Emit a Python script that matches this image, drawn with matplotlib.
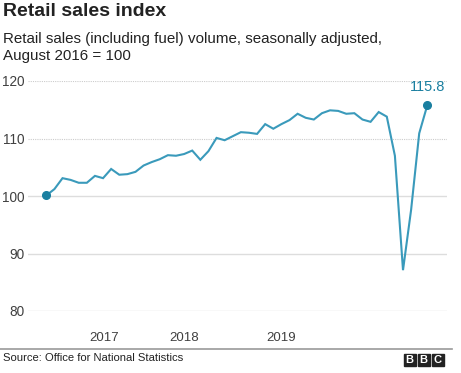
import matplotlib
matplotlib.use("Agg")
import matplotlib.pyplot as plt
from matplotlib.patches import Rectangle
from matplotlib.lines import Line2D

plt.rcParams['font.family'] = ['Liberation Sans', 'DejaVu Sans']

# Monthly index, Aug 2016 .. Jul 2020
values = [100.1, 101.2, 103.1, 102.8, 102.3, 102.3, 103.5, 103.1, 104.7, 103.7,
          103.8, 104.2, 105.3, 105.9, 106.4, 107.1, 107.0, 107.3, 107.9, 106.3,
          107.8, 110.1, 109.7, 110.4, 111.1, 111.0, 110.8, 112.5, 111.7, 112.5,
          113.2, 114.3, 113.6, 113.3, 114.4, 114.9, 114.8, 114.3, 114.4, 113.3,
          112.9, 114.6, 113.8, 107.0, 87.1, 97.6, 110.9, 115.8]
year_labels = ["2017", "2018", "2019"]
year_positions = [7.1, 17.0, 29.0]
y_ticks = [80, 90, 100, 110, 120]

W, H = 461, 373
fig = plt.figure(figsize=(W / 100, H / 100), dpi=100)

def fx(px):
    return px / W

def fy(py):
    return 1 - py / H

ax = fig.add_axes([fx(28.3), fy(311), fx(446.7) - fx(28.3), fy(81) - fy(311)])
ax.set_xlim(-2.22, 49.39)
ax.set_ylim(80, 120)
for s in ax.spines.values():
    s.set_visible(False)

for t in y_ticks:
    if t > 100:
        ax.axhline(t, color="#cccccc", lw=0.8, ls=(0, (1, 1)), zorder=1)
    else:
        ax.axhline(t, color="#dddddd", lw=1.0, zorder=1)

line_color = "#3a9abb"
dot_color = "#1a7fa0"
x = list(range(len(values)))
ax.plot(x, values, color=line_color, lw=1.5, zorder=3, solid_joinstyle="miter")
ax.plot([x[0], x[-1]], [values[0], values[-1]], 'o', color=dot_color, ms=5.5,
        zorder=4, clip_on=False)
ax.annotate(f"{values[-1]:.1f}", (x[-1], values[-1]), xytext=(0, 8),
            textcoords="offset points", ha="center", va="bottom",
            color=dot_color, fontsize=10.5, annotation_clip=False)

ax.set_yticks(y_ticks)
ax.set_yticklabels([str(t) for t in y_ticks])
ax.tick_params(axis="y", length=0, pad=3, labelsize=9.8, labelcolor="#404040")
ax.set_xticks(year_positions)
ax.set_xticklabels(year_labels)
ax.tick_params(axis="x", length=0, pad=15, labelsize=9.5, labelcolor="#404040")

fig.text(fx(3), fy(12), "Retail sales index", fontsize=14, fontweight="bold",
         color="#222222", va="center", ha="left")
fig.text(fx(3), fy(39), "Retail sales (including fuel) volume, seasonally adjusted,",
         fontsize=10.9, color="#222222", va="center", ha="left")
fig.text(fx(3), fy(56), "August 2016 = 100", fontsize=10.9, color="#222222",
         va="center", ha="left")

fig.add_artist(Line2D([0, fx(452)], [fy(348.5), fy(348.5)], color="#999999",
                      lw=1.2, transform=fig.transFigure))
fig.text(fx(3), fy(358), "Source: Office for National Statistics", fontsize=8.1,
         color="#222222", va="center", ha="left")

for i, letter in enumerate("BBC"):
    x0 = 403.5 + i * 14
    fig.add_artist(Rectangle((fx(x0), fy(365.5)), fx(12), fy(353.5) - fy(365.5),
                             transform=fig.transFigure, color="#222222"))
    fig.text(fx(x0 + 6), fy(359.7), letter, fontsize=8, fontweight="bold",
             color="white", ha="center", va="center")

fig.savefig("out.png", dpi=100)
